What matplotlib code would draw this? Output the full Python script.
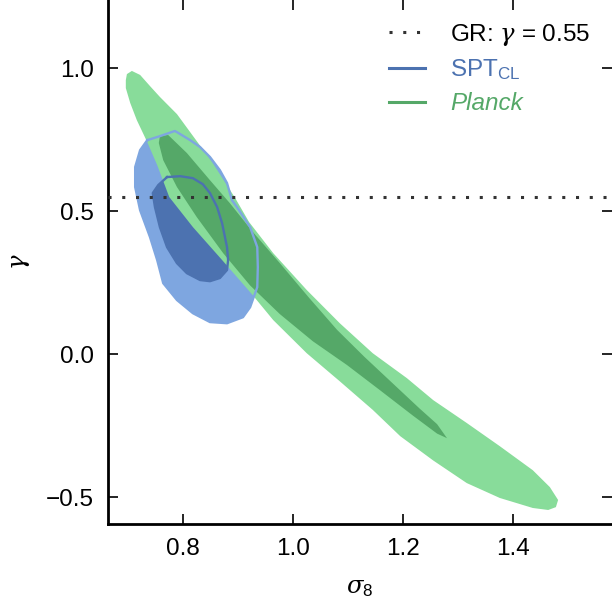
import matplotlib
matplotlib.use("Agg")
import matplotlib.pyplot as plt
from matplotlib.lines import Line2D

plt.rcParams['font.family'] = ['Liberation Sans', 'DejaVu Sans']
plt.rcParams['mathtext.fontset'] = 'custom'
plt.rcParams['mathtext.rm'] = 'Liberation Sans'
plt.rcParams['mathtext.it'] = 'DejaVu Serif:italic'
plt.rcParams['mathtext.bf'] = 'Liberation Sans:bold'

# ---- data (contour boundaries) ----
planck_2s_x = [0.696, 0.698, 0.707, 0.722, 0.740, 0.758, 0.789, 0.813, 0.853, 0.895,
               0.920, 0.964, 1.025, 1.085, 1.145, 1.207, 1.255, 1.316, 1.376, 1.436,
               1.467, 1.482, 1.478, 1.464, 1.436, 1.376, 1.316, 1.255, 1.195, 1.145,
               1.085, 1.025, 0.964, 0.925, 0.871, 0.818, 0.775, 0.753, 0.735, 0.716,
               0.704, 0.696]
planck_2s_y = [0.958, 0.979, 0.990, 0.976, 0.937, 0.899, 0.839, 0.776, 0.671, 0.545,
               0.462, 0.353, 0.224, 0.108, 0.003, -0.084, -0.161, -0.241, -0.322, -0.406,
               -0.465, -0.510, -0.535, -0.545, -0.538, -0.503, -0.451, -0.372, -0.287, -0.195,
               -0.095, 0.003, 0.119, 0.210, 0.329, 0.444, 0.549, 0.661, 0.741, 0.818,
               0.878, 0.930]

planck_1s_x = [0.758, 0.773, 0.807, 0.849, 0.885, 0.927, 0.976, 1.030, 1.080, 1.130,
               1.180, 1.230, 1.262, 1.280, 1.262, 1.218, 1.158, 1.098, 1.036,
               0.976, 0.922, 0.873, 0.825, 0.789, 0.764, 0.756]
planck_1s_y = [0.762, 0.766, 0.703, 0.608, 0.528, 0.427, 0.318, 0.195, 0.085, -0.010,
               -0.100, -0.190, -0.245, -0.294, -0.278, -0.215, -0.126, -0.038, 0.045,
               0.140, 0.240, 0.353, 0.479, 0.584, 0.678, 0.738]

spt_2s_x = [0.735, 0.758, 0.785, 0.789, 0.813, 0.831, 0.849, 0.867, 0.880, 0.889,
            0.898, 0.922, 0.935, 0.936, 0.935, 0.922, 0.909, 0.880, 0.849, 0.818,
            0.789, 0.764, 0.753, 0.740, 0.722, 0.713, 0.713, 0.722]
spt_2s_y = [0.748, 0.762, 0.780, 0.776, 0.748, 0.724, 0.689, 0.643, 0.598, 0.538,
            0.514, 0.444, 0.374, 0.304, 0.234, 0.164, 0.129, 0.108, 0.112, 0.143,
            0.189, 0.248, 0.329, 0.409, 0.503, 0.584, 0.654, 0.713]

spt_1s_x = [0.771, 0.795, 0.818, 0.836, 0.849, 0.862, 0.871, 0.880, 0.882, 0.880,
            0.867, 0.849, 0.831, 0.807, 0.789, 0.771, 0.758, 0.749, 0.745, 0.755]
spt_1s_y = [0.619, 0.622, 0.615, 0.594, 0.563, 0.514, 0.458, 0.374, 0.329, 0.294,
            0.266, 0.255, 0.259, 0.283, 0.318, 0.374, 0.444, 0.514, 0.563, 0.591]

gr_gamma = 0.55
x_ticks = [0.8, 1.0, 1.2, 1.4]
y_ticks = [-0.5, 0.0, 0.5, 1.0]
x_ticklabels = ['0.8', '1.0', '1.2', '1.4']
y_ticklabels = ['\u22120.5', '0.0', '0.5', '1.0']
legend_labels = [r'GR: $\gamma$ = 0.55', r'SPT$_{\rm CL}$', 'Planck']

# ---- colours ----
green_light = '#88dc9a'
green_dark = '#55a868'
blue_light = '#7ea6e0'
blue_dark = '#4c72b0'
dot_color = '#333333'

FS = 17.5

fig = plt.figure(figsize=(6.12, 5.99), dpi=100)
ax = fig.add_axes([108/612, 75/599, 504/612, 524/599])

ax.fill(spt_2s_x, spt_2s_y, color=blue_light, lw=0, zorder=1)
ax.fill(spt_1s_x, spt_1s_y, color=blue_dark, lw=0, zorder=2)
ax.fill(planck_2s_x, planck_2s_y, color=green_light, lw=0, zorder=3)
ax.fill(planck_1s_x, planck_1s_y, color=green_dark, lw=0, zorder=4)
ax.plot(spt_2s_x + spt_2s_x[:1], spt_2s_y + spt_2s_y[:1], color=blue_light, lw=1.7,
        zorder=5, solid_joinstyle='round')
ax.plot(spt_1s_x + spt_1s_x[:1], spt_1s_y + spt_1s_y[:1], color=blue_dark, lw=1.7,
        zorder=6, solid_joinstyle='round')

ax.axhline(gr_gamma, color=dot_color, ls=(0, (1, 3.5)), lw=2.2, zorder=7)

ax.set_xlim(0.6636, 1.58)
ax.set_ylim(-0.594, 1.238)
ax.set_xticks(x_ticks)
ax.set_yticks(y_ticks)
ax.set_xticklabels(x_ticklabels)
ax.set_yticklabels(y_ticklabels)
ax.tick_params(direction='in', top=True, right=True, length=7, width=1.2,
               labelsize=FS, pad=10)
for s in ['top', 'right']:
    ax.spines[s].set_visible(False)
for s in ['left', 'bottom']:
    ax.spines[s].set_linewidth(2.0)

ax.set_xlabel(r'$\sigma_8$', fontsize=FS, labelpad=12)
ax.set_ylabel(r'$\gamma$', fontsize=FS, labelpad=10)

handles = [Line2D([], [], color=dot_color, ls=(0, (1, 3.5)), lw=2.2),
           Line2D([], [], color=blue_dark, lw=2.2),
           Line2D([], [], color=green_dark, lw=2.2)]
leg = ax.legend(handles, legend_labels, loc='upper right', frameon=False, fontsize=FS,
                handlelength=1.48, handletextpad=1.03, labelspacing=0.4,
                borderaxespad=0.5, bbox_to_anchor=(1.0, 1.0))
texts = leg.get_texts()
texts[0].set_color('black')
texts[1].set_color(blue_dark)
texts[2].set_color(green_dark)
texts[2].set_style('italic')

fig.savefig('out.png', dpi=100)
